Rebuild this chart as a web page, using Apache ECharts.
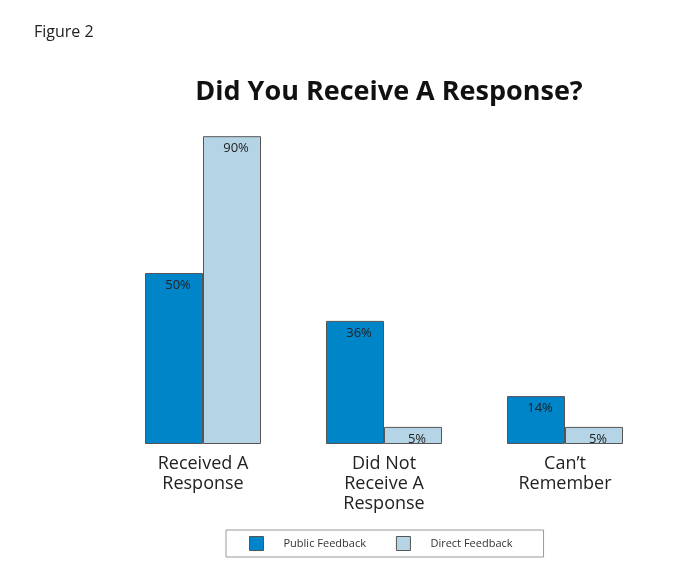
<!DOCTYPE html>
<html><head><meta charset="utf-8">
<script src="https://cdn.jsdelivr.net/npm/echarts@6/dist/echarts.min.js"></script>
<style>html,body{margin:0;padding:0;background:#fff}#c{width:675px;height:574px}</style>
</head><body><div id="c"></div>
<script>
const categories = ["Received A\nResponse", "Did Not\nReceive A\nResponse", "Can\u2019t\nRemember"];
const publicFeedback = [50, 36, 14];
const directFeedback = [90, 5, 5];
const seriesNames = ["Public Feedback", "Direct Feedback"];
const FONT = '"Open Sans", sans-serif';

const chart = echarts.init(document.getElementById('c'));
const labelCfg = {
  show: true, position: 'insideTop', offset: [4, 1],
  formatter: '{c}%', color: '#222', fontSize: 13, fontFamily: FONT
};
chart.setOption({
  animation: false,
  textStyle: { fontFamily: FONT },
  title: [
    { text: 'Did You Receive A Response?', left: 384, top: 74, textAlign: 'center',
      textStyle: { fontSize: 27, fontWeight: 'bold', color: '#111', fontFamily: FONT } },
    { text: 'Figure 2', left: 29, top: 19,
      textStyle: { fontSize: 16, fontWeight: 'normal', color: '#222', fontFamily: FONT } }
  ],
  legend: {
    left: 226, top: 530,
    data: seriesNames,
    icon: 'rect',
    itemWidth: 14, itemHeight: 14, itemGap: 30,
    padding: [6, 31, 6, 23],
    borderColor: '#999', borderWidth: 1,
    itemStyle: { borderColor: '#555', borderWidth: 1 },
    textStyle: { fontSize: 11, color: '#333', fontFamily: FONT, padding: [0, 0, 0, 15] }
  },
  grid: { left: 112.5, right: 19.5, top: 102, bottom: 130 },
  xAxis: {
    type: 'category', data: categories,
    axisLine: { show: false }, axisTick: { show: false },
    axisLabel: { fontSize: 18, color: '#222', lineHeight: 20, margin: 10, fontFamily: FONT }
  },
  yAxis: { type: 'value', min: 0, max: 100, show: false, splitLine: { show: false } },
  series: [
    { name: seriesNames[0], type: 'bar', data: publicFeedback, barWidth: 58, barGap: '0%',
      itemStyle: { color: '#0085C8', borderColor: '#555', borderWidth: 1 }, label: labelCfg },
    { name: seriesNames[1], type: 'bar', data: directFeedback, barWidth: 58, barGap: '0%',
      itemStyle: { color: '#B5D5E6', borderColor: '#555', borderWidth: 1 }, label: labelCfg }
  ]
});
</script></body></html>
